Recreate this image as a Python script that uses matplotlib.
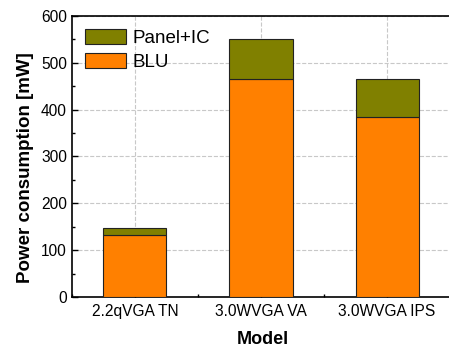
import numpy as np
import matplotlib.pyplot as plt
from matplotlib.ticker import MultipleLocator

plt.rcParams['font.family'] = ['Liberation Sans', 'DejaVu Sans']

models = ['2.2qVGA TN', '3.0WVGA VA', '3.0WVGA IPS']
blu = [133, 465, 384]
panel_ic = [15, 85, 82]

fig = plt.figure(figsize=(4.49, 3.47), dpi=100)
ax = fig.add_axes([0.160, 0.144, 0.851, 0.810])

x = np.arange(len(models))
b1 = ax.bar(x, blu, width=0.5, color='#FF8000', edgecolor='#222222', linewidth=0.8,
            label='BLU', zorder=3)
b2 = ax.bar(x, panel_ic, width=0.5, bottom=blu, color='#808000', edgecolor='#222222',
            linewidth=0.8, label='Panel+IC', zorder=3)

ax.set_xlim(-0.5, 2.53)
ax.set_ylim(0, 600)
ax.set_xticks(x)
ax.set_xticklabels(models)
ax.xaxis.set_minor_locator(MultipleLocator(0.5))
ax.yaxis.set_major_locator(MultipleLocator(100))
ax.yaxis.set_minor_locator(MultipleLocator(50))
ax.tick_params(axis='both', which='major', direction='in', length=4, width=1, labelsize=11.2)
ax.tick_params(axis='x', which='major', pad=5)
ax.tick_params(axis='both', which='minor', direction='in', length=2.5, width=1)

ax.grid(True, which='major', color='#c8c8c8', linestyle='--', linewidth=0.8, zorder=0)
ax.set_axisbelow(True)
for s in ax.spines.values():
    s.set_linewidth(1.2)

ax.set_xlabel('Model', fontsize=13, fontweight='bold', labelpad=9)
ax.set_ylabel('Power consumption [mW]', fontsize=13.5, fontweight='bold', labelpad=5)
ax.yaxis.label.set_y(0.46)

ax.legend([b2, b1], ['Panel+IC', 'BLU'], loc='upper left', fontsize=13.5, frameon=False,
          handlelength=2.2, handleheight=0.85, handletextpad=0.35, labelspacing=0.3,
          borderaxespad=0.3, borderpad=0.4)

fig.savefig('out.png', dpi=100)
